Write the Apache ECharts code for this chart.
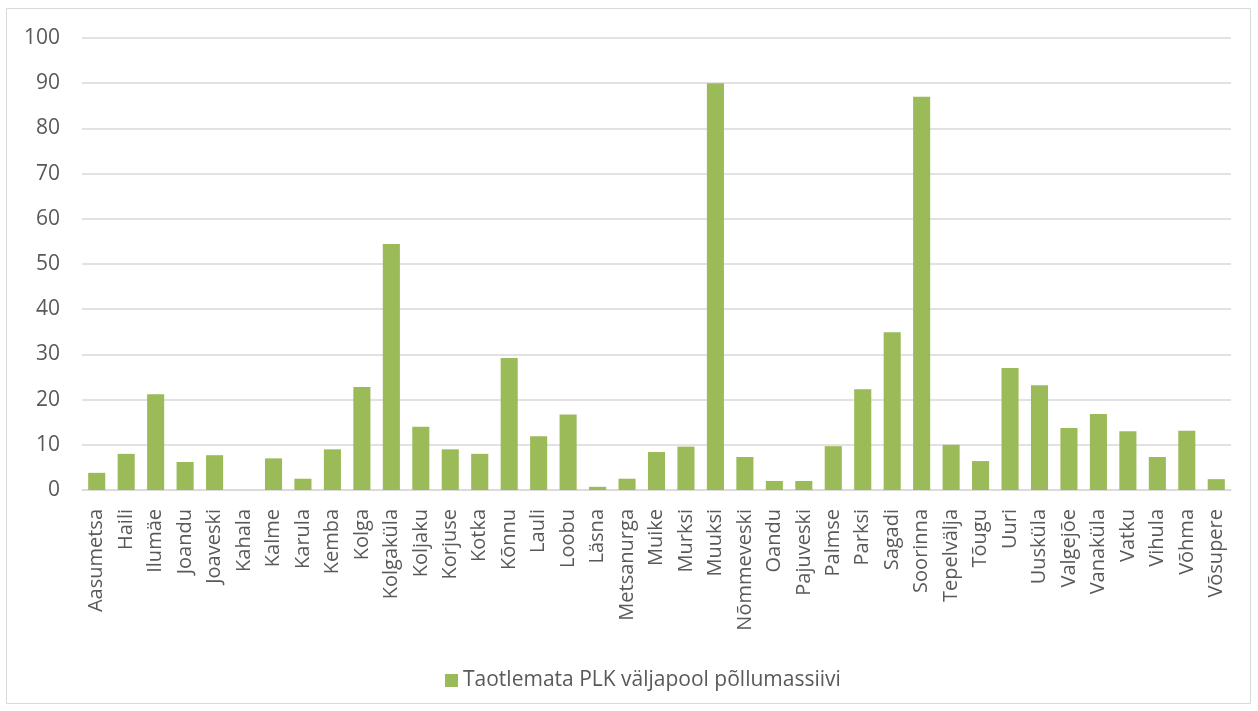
<!DOCTYPE html>
<html lang="et">
<head>
    <meta charset="utf-8">
    <title>Taotlemata PLK väljapool põllumassiivi</title>
    <script src="https://cdn.jsdelivr.net/npm/echarts@6.0.0/dist/echarts.min.js"></script>
    <style>
        body { margin: 0; background: #fff; }
        #chart { width: 1258px; height: 711px; }
    </style>
</head>
<body>
<div id="chart"></div>
<script>
    // külad
    const categories = ['Aasumetsa', 'Haili', 'Ilumäe', 'Joandu', 'Joaveski', 'Kahala', 'Kalme', 'Karula', 'Kemba',
        'Kolga', 'Kolgaküla', 'Koljaku', 'Korjuse', 'Kotka', 'Kõnnu', 'Lauli', 'Loobu', 'Läsna', 'Metsanurga',
        'Muike', 'Murksi', 'Muuksi', 'Nõmmeveski', 'Oandu', 'Pajuveski', 'Palmse', 'Parksi', 'Sagadi', 'Soorinna',
        'Tepelvälja', 'Tõugu', 'Uuri', 'Uusküla', 'Valgejõe', 'Vanaküla', 'Vatku', 'Vihula', 'Võhma', 'Võsupere'];
    const values = [3.8, 8, 21.2, 6.2, 7.7, 0, 7, 2.5, 9,
        22.8, 54.4, 14, 9, 8, 29.2, 11.9, 16.7, 0.7, 2.5,
        8.4, 9.6, 90, 7.3, 2, 2, 9.7, 22.3, 34.9, 87,
        10, 6.4, 27, 23.2, 13.7, 16.8, 13, 7.3, 13.1, 2.4];
    const seriesName = 'Taotlemata PLK väljapool põllumassiivi';
    const yTicks = { min: 0, max: 100, interval: 10 };

    const font = '"Open Sans", "Noto Sans", sans-serif';
    const chart = echarts.init(document.getElementById('chart'));
    chart.setOption({
        animation: false,
        textStyle: { fontFamily: font },
        graphic: [{
            type: 'rect',
            shape: { x: 6.5, y: 8.5, width: 1244, height: 695 },
            style: { fill: 'none', stroke: '#d9d9d9', lineWidth: 1 },
            silent: true
        }],
        grid: { left: 82, right: 27, top: 38, bottom: 221 },
        legend: {
            data: [seriesName],
            left: 440,
            top: 665,
            icon: 'rect',
            itemWidth: 13,
            itemHeight: 13,
            itemGap: 6,
            textStyle: { color: '#595959', fontSize: 21, fontFamily: font }
        },
        xAxis: {
            type: 'category',
            data: categories,
            axisLine: { lineStyle: { color: '#d9d9d9', width: 1.5 } },
            axisTick: { show: false },
            axisLabel: {
                rotate: 90,
                interval: 0,
                margin: 19,
                color: '#595959',
                fontSize: 20,
                fontFamily: font
            }
        },
        yAxis: {
            type: 'value',
            min: yTicks.min,
            max: yTicks.max,
            interval: yTicks.interval,
            axisLine: { show: false },
            axisTick: { show: false },
            splitLine: { lineStyle: { color: '#d9d9d9', width: 1.5 } },
            axisLabel: { margin: 22, color: '#595959', fontSize: 21, fontFamily: font }
        },
        series: [{
            name: seriesName,
            type: 'bar',
            data: values,
            barCategoryGap: '42%',
            itemStyle: { color: '#9bbb59' }
        }]
    });
</script>
</body>
</html>
